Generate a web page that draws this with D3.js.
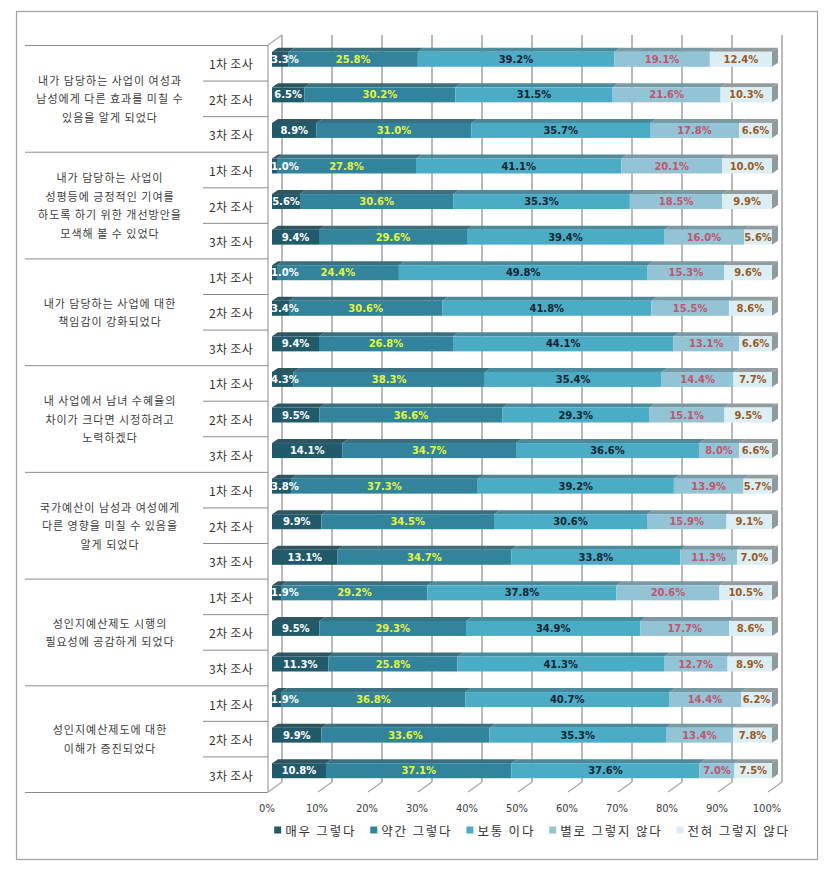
<!DOCTYPE html>
<html><head><meta charset="utf-8">
<script src="https://cdn.jsdelivr.net/npm/d3@7/dist/d3.min.js"></script>
<style>body{margin:0;background:#fff;}svg{display:block;}</style>
</head><body>
<svg id="c" width="829" height="871"></svg>
<script>
const groupLabels = [
  ["내가 담당하는 사업이 여성과","남성에게 다른 효과를 미칠 수","있음을 알게 되었다"],
  ["내가 담당하는 사업이","성평등에 긍정적인 기여를","하도록 하기 위한 개선방안을","모색해 볼 수 있었다"],
  ["내가 담당하는 사업에 대한","책임감이 강화되었다"],
  ["내 사업에서 남녀 수혜율의","차이가 크다면 시정하려고","노력하겠다"],
  ["국가예산이 남성과 여성에게","다른 영향을 미칠 수 있음을","알게 되었다"],
  ["성인지예산제도 시행의","필요성에 공감하게 되었다"],
  ["성인지예산제도에 대한","이해가 증진되었다"]
];
const waves = ["1차 조사","2차 조사","3차 조사"];
const seriesNames = ["매우 그렇다","약간 그렇다","보통 이다","별로 그렇지 않다","전혀 그렇지 않다"];
const veryYes     = [3.3,6.5,8.9, 1.0,5.6,9.4, 1.0,3.4,9.4, 4.3,9.5,14.1, 3.8,9.9,13.1, 1.9,9.5,11.3, 1.9,9.9,10.8];
const somewhatYes = [25.8,30.2,31.0, 27.8,30.6,29.6, 24.4,30.6,26.8, 38.3,36.6,34.7, 37.3,34.5,34.7, 29.2,29.3,25.8, 36.8,33.6,37.1];
const neutral     = [39.2,31.5,35.7, 41.1,35.3,39.4, 49.8,41.8,44.1, 35.4,29.3,36.6, 39.2,30.6,33.8, 37.8,34.9,41.3, 40.7,35.3,37.6];
const somewhatNo  = [19.1,21.6,17.8, 20.1,18.5,16.0, 15.3,15.5,13.1, 14.4,15.1,8.0, 13.9,15.9,11.3, 20.6,17.7,12.7, 14.4,13.4,7.0];
const notAtAll    = [12.4,10.3,6.6, 10.0,9.9,5.6, 9.6,8.6,6.6, 7.7,9.5,6.6, 5.7,9.1,7.0, 10.5,8.6,8.9, 6.2,7.8,7.5];
const xTicks = [0,0.1,0.2,0.3,0.4,0.5,0.6,0.7,0.8,0.9,1.0];

const seriesValues = [veryYes, somewhatYes, neutral, somewhatNo, notAtAll];
const colors = ["#215b6b","#31849b","#4bacc6","#92c4d6","#dbeef4"];
const labelColors = ["#ffffff","#e4f53a","#1a2532","#c4546c","#9a5a22"];

const svg = d3.select("#c");
svg.append("rect").attr("x",16.5).attr("y",11.5).attr("width",801).attr("height",848)
  .attr("fill","#fff").attr("stroke","#a0a0a0").attr("stroke-width",1.2);

const nRows = veryYes.length;
const rows = d3.range(nRows).map(i => {
  const o = {i};
  seriesNames.forEach((s,k)=> o[s] = seriesValues[k][i]);
  return o;
});
const stacked = d3.stack().keys(seriesNames).offset(d3.stackOffsetExpand)(rows);

const yTop = 45, yBot = 792;
const y = d3.scaleBand().domain(d3.range(nRows)).range([yTop,yBot]);
const xFront = d3.scaleLinear().domain([0,1]).range([268,768]);
const WX = 14, WY = -10;
const xBar = d3.scaleLinear().domain([0,1]).range([272,772]);
const DX = 6, DY = -4;

const grid = "#a8a8a8";
svg.append("g").selectAll("line").data(xTicks).join("line")
  .attr("x1",d=>xFront(d)+WX).attr("x2",d=>xFront(d)+WX)
  .attr("y1",yTop+WY).attr("y2",yBot+WY)
  .attr("stroke",grid).attr("stroke-width",1.6);
svg.append("g").selectAll("line").data(xTicks).join("line")
  .attr("x1",d=>xFront(d)).attr("y1",yBot)
  .attr("x2",d=>xFront(d)+WX).attr("y2",yBot+WY)
  .attr("stroke",grid).attr("stroke-width",1.3);
svg.append("line").attr("x1",xFront(0)).attr("x2",xFront(0)).attr("y1",yTop).attr("y2",yBot)
  .attr("stroke",grid).attr("stroke-width",1.3);
svg.append("line").attr("x1",xFront(0)).attr("y1",yTop).attr("x2",xFront(0)+WX).attr("y2",yTop+WY)
  .attr("stroke",grid).attr("stroke-width",1.3);

const divider = "#8c8c8c";
const gDiv = svg.append("g");
d3.range(nRows+1).forEach(i=>{
  const yy = i<nRows ? y(i) : yBot;
  const major = i%3===0;
  gDiv.append("line").attr("x1",major?25:203).attr("x2",xFront(0)).attr("y1",yy+0.5).attr("y2",yy+0.5)
    .attr("stroke",divider).attr("stroke-width",1);
});

groupLabels.forEach((lines,g)=>{
  const cy = (y(g*3) + y(g*3+2) + y.bandwidth())/2;
  const lh = 18.5;
  const t = svg.append("text").attr("font-family","'Noto Sans CJK KR'").attr("font-size",11)
    .attr("letter-spacing",1).attr("fill","#3c3c3c").attr("text-anchor","middle");
  lines.forEach((l,j)=>{
    t.append("tspan").attr("x",110).attr("y",cy + (j-(lines.length-1)/2)*lh)
      .attr("dominant-baseline","central").text(l);
  });
});
svg.append("g").selectAll("text").data(d3.range(nRows)).join("text")
  .attr("x",253).attr("y",i=>y(i)+y.bandwidth()/2+1)
  .attr("text-anchor","end").attr("dominant-baseline","central")
  .attr("font-family","'Noto Sans CJK KR'").attr("font-size",12).attr("letter-spacing",0.3).attr("fill","#333")
  .text(i=>waves[i%3]);

const gBars = svg.append("g");
const shade = (c,t)=>d3.interpolateRgb(c,"#4a4a4a")(t);
d3.range(nRows).forEach(i=>{
  const yc = y(i)+y.bandwidth()/2;
  const yt = yc-11, yb = yc+4;
  const g = gBars.append("g");
  stacked.forEach((s,k)=>{
    const x0 = xBar(s[i][0]), x1 = xBar(s[i][1]);
    g.append("polygon").attr("points",[[x0,yt],[x0+DX,yt+DY],[x1+DX,yt+DY],[x1,yt]].join(" "))
      .attr("fill",shade(colors[k],k===4?0.5:0.35));
  });
  stacked.forEach((s,k)=>{
    const x0 = xBar(s[i][0]), x1 = xBar(s[i][1]);
    g.append("rect").attr("x",x0).attr("y",yt).attr("width",Math.max(0,x1-x0)).attr("height",yb-yt)
      .attr("fill",colors[k]);
  });
  const xe = xBar(1);
  g.append("polygon").attr("points",[[xe,yt],[xe+DX,yt+DY],[xe+DX,yb+DY],[xe,yb]].join(" "))
    .attr("fill","#8d9ba1");
});

svg.append("clipPath").attr("id","plotclip").append("rect")
  .attr("x",xBar(0)).attr("y",0).attr("width",540).attr("height",871);
const gLab = svg.append("g").attr("clip-path","url(#plotclip)");
d3.range(nRows).forEach(i=>{
  const yc = y(i)+y.bandwidth()/2 - 3.5;
  stacked.forEach((s,k)=>{
    const v = seriesValues[k][i];
    const x0 = xBar(s[i][0]), x1 = xBar(s[i][1]);
    const t = gLab.append("text").attr("y",yc).attr("dominant-baseline","central")
      .attr("text-anchor","middle").attr("font-family","'DejaVu Sans'").attr("font-weight","bold")
      .attr("font-size",10).attr("fill",labelColors[k]).text(v.toFixed(1)+"%");
    const w = t.node().getComputedTextLength();
    let cx = (x0+x1)/2;
    cx = Math.max(cx, xBar(0) + w/2 - 1);
    t.attr("x",cx);
  });
});

svg.append("g").selectAll("text").data(xTicks).join("text")
  .attr("x",d=>xFront(d)-1).attr("y",808).attr("text-anchor","middle").attr("dominant-baseline","central")
  .attr("font-family","'DejaVu Sans'").attr("font-size",10).attr("fill","#404040")
  .text(d=>d3.format(".0%")(d));

const gLeg = svg.append("g");
let xx = 0;
const legGap = 14;
seriesNames.forEach((n,k)=>{
  const g = gLeg.append("g");
  g.append("rect").attr("x",0).attr("y",-3.5).attr("width",7).attr("height",7).attr("fill",colors[k]);
  const t = g.append("text").attr("x",11).attr("y",0).attr("dominant-baseline","central")
    .attr("font-family","'Noto Sans CJK KR'").attr("font-size",12.5).attr("letter-spacing",1.8)
    .attr("fill","#333").text(n);
  const w = 11 + t.node().getComputedTextLength();
  g.attr("transform",`translate(${xx},0)`);
  xx += w + legGap;
});
const totalW = xx - legGap;
gLeg.attr("transform",`translate(${532 - totalW/2},830)`);
</script>
</body></html>
